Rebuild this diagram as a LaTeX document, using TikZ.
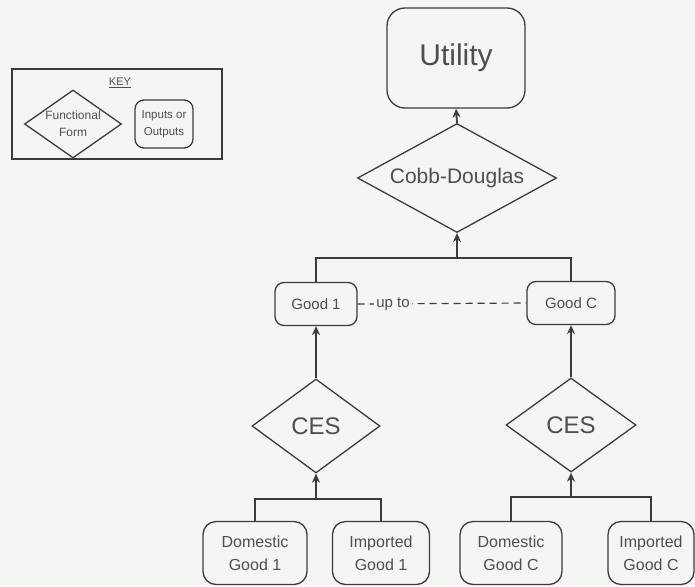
\documentclass[tikz,border=0pt]{standalone}
\usepackage{fontspec}
\setmainfont{Liberation Sans}
\usetikzlibrary{shapes.geometric,arrows.meta}
\definecolor{bg}{HTML}{F4F6F3}
\definecolor{ln}{HTML}{3C3C3C}
\definecolor{tx}{HTML}{4E4E4E}
\tikzset{
  box/.style={draw=ln,line width=1.3pt,rounded corners=9pt,inner sep=0pt,text=tx,align=center},
  dia/.style={draw=ln,line width=1.3pt,diamond,inner sep=0pt,text=tx,align=center},
  conn/.style={draw=ln,line width=1.8pt},
  arr/.style={conn,-{Stealth[length=9pt,width=8pt,inset=3pt]}},
}
\begin{document}
\begin{tikzpicture}[x=1pt,y=-1pt]
\fill[bg] (0,0) rectangle (695,586);
\useasboundingbox (0,0) rectangle (695,586);
% key
\node[draw=ln,line width=1.5pt,minimum width=210pt,minimum height=90pt,inner sep=0pt] (keybox) at (117,114) {};
\node[text=tx,font=\fontsize{11}{13}\selectfont] (keyt) at (120,83) {\underline{KEY}};
\node[dia,aspect=1.43,minimum width=97pt,minimum height=68pt,font=\fontsize{12}{17}\selectfont] (keyd) at (73,124) {Functional\\Form};
\node[box,minimum width=58pt,minimum height=48pt,font=\fontsize{11.5}{17}\selectfont] (keyr) at (164,124) {Inputs or\\Outputs};
% top
\node[box,rounded corners=18pt,minimum width=138pt,minimum height=100pt,font=\fontsize{30}{34}\selectfont] (util) at (456,58) {Utility};
\node[dia,aspect=1.83,minimum width=199pt,minimum height=109pt,font=\fontsize{21}{24}\selectfont] (cd) at (457,178) {Cobb-Douglas};
% middle
\node[box,minimum width=82pt,minimum height=43pt,font=\fontsize{15}{18}\selectfont] (g1) at (316,304) {Good 1};
\node[box,minimum width=88pt,minimum height=43pt,font=\fontsize{15}{18}\selectfont] (gc) at (571,303) {Good C};
\node[dia,aspect=1.36,minimum width=128pt,minimum height=94pt,font=\fontsize{24}{28}\selectfont] (ces1) at (316,426) {CES};
\node[dia,aspect=1.38,minimum width=130pt,minimum height=94pt,font=\fontsize{24}{28}\selectfont] (cesc) at (571,425) {CES};
% bottom
\node[box,rounded corners=13pt,minimum width=104pt,minimum height=63pt,font=\fontsize{16}{23}\selectfont] (d1) at (255,553) {Domestic\\Good 1};
\node[box,rounded corners=13pt,minimum width=97pt,minimum height=63pt,font=\fontsize{16}{23}\selectfont] (i1) at (381,553) {Imported\\Good 1};
\node[box,rounded corners=13pt,minimum width=102pt,minimum height=63pt,font=\fontsize{16}{23}\selectfont] (dc) at (511,553) {Domestic\\Good C};
\node[box,rounded corners=13pt,minimum width=86pt,minimum height=63pt,font=\fontsize{16}{23}\selectfont] (ic) at (651,553) {Imported\\Good C};
% connectors
\coordinate (bar1) at (457,258);
\coordinate (bar2) at (316,499);
\coordinate (bar3) at (571,497);
\draw[arr] (cd.north) -- (util.south);
\draw[conn] (g1.north) |- (bar1) -| (gc.north);
\draw[arr] (bar1) -- (cd.south);
\draw[arr] (ces1.north) -- (g1.south);
\draw[arr] (cesc.north) -- (gc.south);
\draw[conn] (d1.north) |- (bar2) -| (i1.north);
\draw[arr] (bar2) -- (ces1.south);
\draw[conn] (dc.north) |- (bar3) -| (ic.north);
\draw[arr] (bar3) -- (cesc.south);
\draw[draw=ln,line width=1.2pt,dash pattern=on 7pt off 5pt] (g1.east) -- node[pos=0.21,fill=bg,text=tx,inner sep=2pt,font=\fontsize{15}{18}\selectfont] (upto) {up to} (gc.west);
\end{tikzpicture}
\end{document}
